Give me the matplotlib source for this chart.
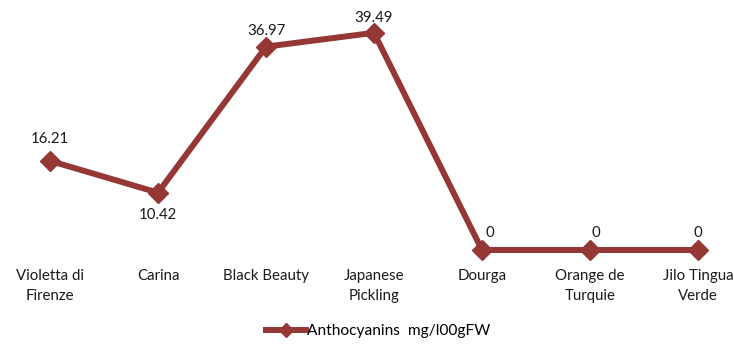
import matplotlib.pyplot as plt

plt.rcParams['font.family'] = ['Lato', 'DejaVu Sans']

varieties = ["Violetta di\nFirenze", "Carina", "Black Beauty", "Japanese\nPickling",
             "Dourga", "Orange de\nTurquie", "Jilo Tingua\nVerde"]
anthocyanins = [16.21, 10.42, 36.97, 39.49, 0, 0, 0]
value_labels = ["16.21", "10.42", "36.97", "39.49", "0", "0", "0"]
series_name = "Anthocyanins  mg/l00gFW"

color = '#953735'
# label offsets in points, tuned by eye
offsets = [(0, 16), (0, -16), (0, 11), (0, 11), (6, 12), (4, 12), (0, 12)]

fig = plt.figure(figsize=(7.34, 3.49), dpi=100)
ax = fig.add_axes([0, 99 / 349, 1, 247.5 / 349])

x = list(range(len(varieties)))
line, = ax.plot(x, anthocyanins, color=color, lw=4.3, marker='D', ms=10,
                clip_on=False, zorder=3, label=series_name)

for xi, yi, txt, off in zip(x, anthocyanins, value_labels, offsets):
    ax.annotate(txt, (xi, yi), xytext=off, textcoords='offset points',
                ha='center', va='center', fontsize=10.8, color='#1a1a1a')

ax.set_xlim(-50 / 108, 684 / 108)
ax.set_ylim(0, 45)
ax.set_xticks(x)
ax.set_xticklabels(varieties, fontsize=10.8, color='#1a1a1a', linespacing=1.55)
ax.tick_params(axis='x', length=0, pad=14)
ax.set_yticks([])
for s in ax.spines.values():
    s.set_visible(False)

fig.legend(handles=[line], loc='lower center', bbox_to_anchor=(0.515, -0.01),
           frameon=False, fontsize=11.2, handlelength=2.6, handletextpad=0.05,
           markerscale=0.75)

fig.savefig('out.png', dpi=100)
